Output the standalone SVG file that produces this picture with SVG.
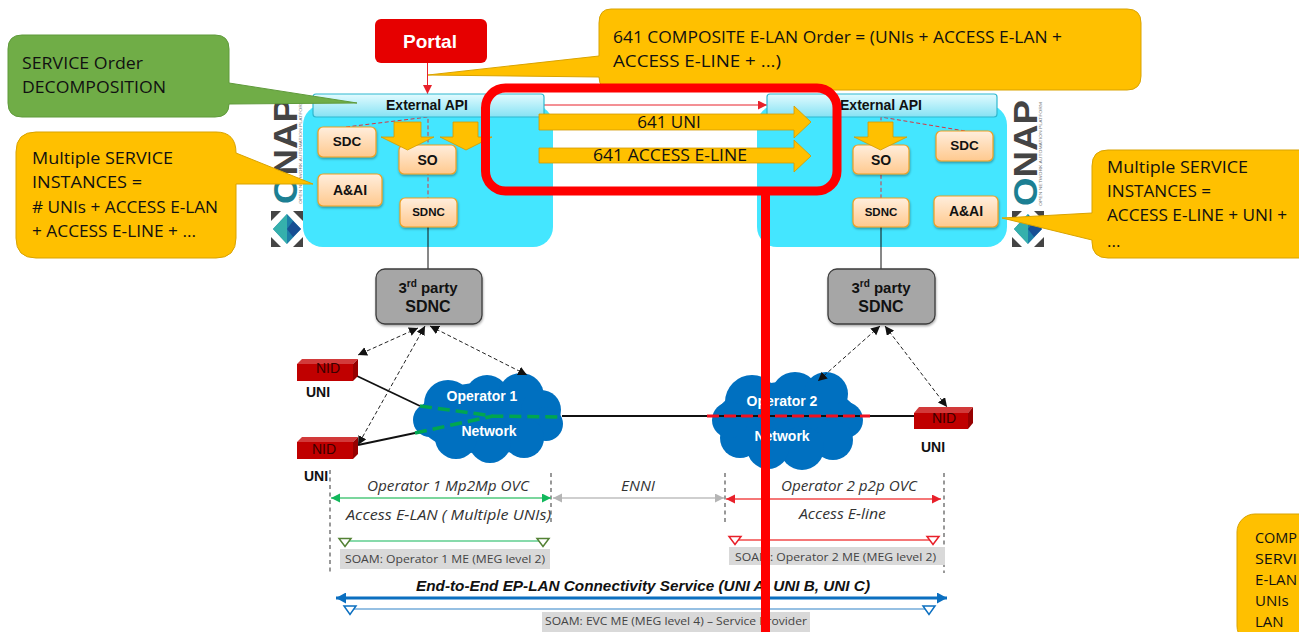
<svg xmlns="http://www.w3.org/2000/svg" xmlns:xlink="http://www.w3.org/1999/xlink" width="1299" height="632" viewBox="0 0 1299 632">
<style>
text{font-family:"Liberation Sans",Arial,sans-serif;fill:#111}
.call{font-family:"Open Sans","Liberation Sans",sans-serif;font-size:17px;dominant-baseline:central}
.small{font-size:15px}
.b{font-weight:bold;text-anchor:middle;dominant-baseline:central}
.yel{fill:#ffc000;stroke:#d9a300;stroke-width:1}
.grn{fill:#70ad47;stroke:#5f9a3b;stroke-width:1}
.panel{fill:#44e6ff}
.api{fill:url(#gApi);stroke:#2fb8cf;stroke-width:1.2}
.box{fill:url(#gBox);stroke:#ee9f22;stroke-width:1.2;filter:url(#sh)}
.sdnc3{fill:#a6a6a6;stroke:#3c3c3c;stroke-width:1.3;filter:url(#sh)}
.cloud{fill:#0070c0}
.cl{fill:#fff;font-weight:bold;font-size:14px;text-anchor:middle;dominant-baseline:central}
.nidf{fill:#c00000}.nidt{fill:#d23a3a}.nids{fill:#960000}
.nidl{font-size:14px;text-anchor:middle;dominant-baseline:central;fill:#3a0000}
.uni{font-weight:bold;font-size:14px;fill:#111;dominant-baseline:central}
.dash{fill:none;stroke:#222;stroke-width:1;stroke-dasharray:4 2.5;marker-start:url(#mK);marker-end:url(#mK)}
.blk{fill:none;stroke:#111;stroke-width:1.8}
.vd{fill:none;stroke:#555;stroke-width:1.2;stroke-dasharray:4 3.5}
.rd{fill:none;stroke:#d8343f;stroke-width:1;stroke-dasharray:4 2.5}
.arrow{fill:#ffc000;stroke:#d39a00;stroke-width:.8}
.it{font-family:"Open Sans","Noto Sans",sans-serif;font-style:italic;font-size:14px;fill:#333;dominant-baseline:central}
.so{font-family:"Open Sans","Noto Sans",sans-serif;font-size:11px;fill:#444;dominant-baseline:central}
.lab{fill:#d9d9d9}
.tri{fill:#fff;stroke-width:1.5}
.big{font-size:17px;text-anchor:middle;dominant-baseline:central;font-family:"Open Sans","Liberation Sans",sans-serif}
.onap{font-weight:bold;font-size:34px;fill:#444}
.sub{font-size:4px;fill:#777}
</style>
<defs>
<linearGradient id="gApi" x1="0" y1="0" x2="0" y2="1"><stop offset="0" stop-color="#e2fbff"/><stop offset="1" stop-color="#86e2f3"/></linearGradient>
<linearGradient id="gBox" x1="0" y1="0" x2="0" y2="1"><stop offset="0" stop-color="#ffeedd"/><stop offset="1" stop-color="#ffc98e"/></linearGradient>
<filter id="sh" x="-10%" y="-10%" width="125%" height="130%"><feDropShadow dx="0.5" dy="1.5" stdDeviation="1" flood-color="#000" flood-opacity=".35"/></filter>
<marker id="mK" markerUnits="userSpaceOnUse" markerWidth="10" markerHeight="10" refX="9" refY="4.5" orient="auto-start-reverse"><path d="M0 0L9 4.5L0 9Z" fill="#111"/></marker>
<marker id="mR" markerUnits="userSpaceOnUse" markerWidth="10" markerHeight="10" refX="9" refY="4.5" orient="auto-start-reverse"><path d="M0 0L9 4.5L0 9Z" fill="#e8202a"/></marker>
<marker id="mG" markerUnits="userSpaceOnUse" markerWidth="10" markerHeight="10" refX="9" refY="4.5" orient="auto-start-reverse"><path d="M0 0L9 4.5L0 9Z" fill="#12b85c"/></marker>
<marker id="mY" markerUnits="userSpaceOnUse" markerWidth="10" markerHeight="10" refX="9" refY="4.5" orient="auto-start-reverse"><path d="M0 0L9 4.5L0 9Z" fill="#b5b5b5"/></marker>
<marker id="mB" markerUnits="userSpaceOnUse" markerWidth="11" markerHeight="11" refX="10" refY="5.5" orient="auto-start-reverse"><path d="M0 0L10 5.5L0 11Z" fill="#0b6fc0"/></marker>
<g id="mark">
<rect x="0" y="0" width="32" height="36" fill="#444"/>
<path d="M10 0H22L32 10V26L22 36H10L0 26V10Z" fill="#fff"/>
<path d="M16 3L30 18L16 33L2 18Z" fill="#1d7fa8"/>
<path d="M16 3L2 18L16 33Z" fill="#35b0ac"/>
<path d="M22 10L30 18L22 26L16 18Z" fill="#174f94"/>
</g>
</defs>
<rect width="1299" height="632" fill="#fff"/>

<g id="onap-left">
<text class="onap" transform="translate(297,204) rotate(-90)" textLength="106" lengthAdjust="spacingAndGlyphs"><tspan fill="#1c7f93">O</tspan>NAP</text>
<text class="sub" transform="translate(302,204) rotate(-90)" textLength="104" lengthAdjust="spacingAndGlyphs">OPEN NETWORK AUTOMATION PLATFORM</text>
<use xlink:href="#mark" href="#mark" x="271" y="211"/>
</g>
<g id="onap-right">
<text class="onap" transform="translate(1037,206) rotate(-90)" textLength="106" lengthAdjust="spacingAndGlyphs"><tspan fill="#1c7f93">O</tspan>NAP</text>
<text class="sub" transform="translate(1042,206) rotate(-90)" textLength="104" lengthAdjust="spacingAndGlyphs">OPEN NETWORK AUTOMATION PLATFORM</text>
<use xlink:href="#mark" href="#mark" x="1012" y="211"/>
</g>

<rect id="panel-left" class="panel" x="303" y="105" width="250" height="142" rx="20"/>
<rect id="panel-right" class="panel" x="757" y="105" width="250" height="142" rx="20"/>

<g id="callout-order">
<path class="yel" d="M611 9H1127Q1141 9 1141 23V76Q1141 90 1127 90H613Q599 90 599 77L428 75L599 56V23Q599 9 611 9Z"/>
<text class="call" x="613" y="36" textLength="449" lengthAdjust="spacingAndGlyphs">641 COMPOSITE E-LAN Order = (UNIs + ACCESS E-LAN +</text>
<text class="call" x="613" y="60" textLength="168" lengthAdjust="spacingAndGlyphs">ACCESS E-LINE + ...)</text>
</g>

<g id="connectors">
<path d="M427.500 63V94" fill="none" stroke="#e8202a" stroke-width="1" marker-end="url(#mR)"/>
<path d="M544 105H767" fill="none" stroke="#e8202a" stroke-width="1" marker-end="url(#mR)"/>
<path class="rd" d="M346 127L428 117V198"/>
<path class="rd" d="M965 131L881 117V198"/>
<path d="M428 227V269M881 227V269" stroke="#111" stroke-width="1" fill="none"/>
<path class="blk" d="M357 376L420 406"/>
<path class="blk" d="M358 445L415 433"/>
</g>

<g id="portal">
<rect x="375" y="19" width="112" height="44" rx="6" fill="#e60000"/>
<text class="b" x="430" y="41" font-size="19" style="fill:#fff">Portal</text>
</g>

<g id="api-left"><rect class="api" x="313" y="94" width="231" height="23" rx="3"/><text class="b" x="427" y="105" font-size="14">External API</text></g>
<g id="api-right"><rect class="api" x="767" y="94" width="230" height="23" rx="3"/><text class="b" x="881" y="105" font-size="14">External API</text></g>

<g id="sdc-left"><rect class="box" x="318" y="127" width="58" height="30" rx="5"/><text class="b" x="347" y="141.500" font-size="13.500">SDC</text></g>
<g id="so-left"><rect class="box" x="399" y="145" width="57" height="29" rx="5"/><text class="b" x="427.500" y="159.500" font-size="14">SO</text></g>
<g id="aai-left"><rect class="box" x="318" y="174" width="64" height="32" rx="5"/><text class="b" x="350" y="189.500" font-size="14">A&amp;AI</text></g>
<g id="sdnc-left"><rect class="box" x="400" y="198" width="57" height="29" rx="5"/><text class="b" x="428.500" y="212" font-size="11.500">SDNC</text></g>

<g id="sdc-right"><rect class="box" x="936" y="131" width="57" height="30" rx="5"/><text class="b" x="964.500" y="145.500" font-size="13.500">SDC</text></g>
<g id="so-right"><rect class="box" x="853" y="145" width="56" height="29" rx="5"/><text class="b" x="881" y="159.500" font-size="14">SO</text></g>
<g id="aai-right"><rect class="box" x="934" y="196" width="64" height="31" rx="5"/><text class="b" x="966" y="211" font-size="14">A&amp;AI</text></g>
<g id="sdnc-right"><rect class="box" x="853" y="198" width="56" height="29" rx="5"/><text class="b" x="881" y="212" font-size="11.500">SDNC</text></g>

<g id="callout-decomposition">
<path class="grn" d="M22 35H215Q229 35 229 49V83L357 103L229 104Q229 117 215 117H22Q8 117 8 103V49Q8 35 22 35Z"/>
<text class="call" x="22" y="62" textLength="121" lengthAdjust="spacingAndGlyphs">SERVICE Order</text>
<text class="call" x="22" y="86" textLength="144" lengthAdjust="spacingAndGlyphs">DECOMPOSITION</text>
</g>
<g id="callout-left">
<path class="yel" d="M36 132H216Q236 132 236 153L313 184H236V238Q236 258 216 258H36Q16 258 16 238V152Q16 132 36 132Z"/>
<text class="call" x="32" y="157" textLength="141" lengthAdjust="spacingAndGlyphs">Multiple SERVICE</text>
<text class="call" x="32" y="181" textLength="110" lengthAdjust="spacingAndGlyphs">INSTANCES  =</text>
<text class="call" x="32" y="206" textLength="186" lengthAdjust="spacingAndGlyphs"># UNIs + ACCESS E-LAN</text>
<text class="call" x="32" y="230" textLength="164" lengthAdjust="spacingAndGlyphs">+ ACCESS E-LINE + ...</text>
</g>
<g id="callout-right">
<path class="yel" d="M1108 150H1301V258H1108Q1092 258 1092 242V240L1002 218L1092 213V166Q1092 150 1108 150Z"/>
<text class="call" x="1107" y="166" textLength="141" lengthAdjust="spacingAndGlyphs">Multiple SERVICE</text>
<text class="call" x="1107" y="190" textLength="104" lengthAdjust="spacingAndGlyphs">INSTANCES =</text>
<text class="call" x="1107" y="214" textLength="180" lengthAdjust="spacingAndGlyphs">ACCESS E-LINE + UNI +</text>
<text class="call" x="1107" y="240">...</text>
</g>
<g id="callout-composite">
<rect class="yel" x="1237" y="514" width="80" height="130" rx="18"/>
<text class="call small" x="1255" y="537" textLength="42" lengthAdjust="spacingAndGlyphs">COMP</text>
<text class="call small" x="1255" y="558" textLength="42" lengthAdjust="spacingAndGlyphs">SERVI</text>
<text class="call small" x="1255" y="579" textLength="42" lengthAdjust="spacingAndGlyphs">E-LAN</text>
<text class="call small" x="1255" y="600">UNIs</text>
<text class="call small" x="1255" y="621">LAN</text>
</g>

<g id="order-arrows">
<path class="arrow" d="M394 122H421V137H434L407.500 150L381 137H394Z"/>
<path class="arrow" d="M453 122H478V137H492L466 150L440 137H453Z"/>
<path class="arrow" d="M868 122H893V137H907L880.500 150L854 137H868Z"/>
<path class="arrow" d="M539 114H794V106L811 122L794 138V130H539Z"/>
<path class="arrow" d="M539 148H794V140L811 156L794 172V163H539Z"/>
<text class="big" x="669" y="121">641 UNI</text>
<text class="big" x="670" y="154" textLength="154" lengthAdjust="spacingAndGlyphs">641 ACCESS E-LINE</text>
</g>

<g id="sdnc3-left"><rect class="sdnc3" x="376" y="269" width="106" height="55" rx="9"/><text class="b" x="428" y="287" font-size="15">3<tspan font-size="10" dy="-4">rd</tspan><tspan dy="4"> party</tspan></text><text class="b" x="428" y="306" font-size="16">SDNC</text></g>
<g id="sdnc3-right"><rect class="sdnc3" x="828" y="269" width="107" height="55" rx="9"/><text class="b" x="881" y="287" font-size="15">3<tspan font-size="10" dy="-4">rd</tspan><tspan dy="4"> party</tspan></text><text class="b" x="881" y="306" font-size="16">SDNC</text></g>

<g id="cloud-1">
<g class="cloud"><ellipse cx="488" cy="418" rx="70" ry="36"/><circle cx="448" cy="404" r="24"/><circle cx="487" cy="397" r="22"/><circle cx="521" cy="396" r="23"/><circle cx="541" cy="410" r="20"/><circle cx="546" cy="424" r="17"/><circle cx="524" cy="438" r="20"/><circle cx="490" cy="442" r="21"/><circle cx="456" cy="438" r="21"/><circle cx="430" cy="420" r="17"/></g>
<text class="cl" x="482" y="396">Operator 1</text><text class="cl" x="489" y="431">Network</text>
</g>
<g id="cloud-2">
<g class="cloud"><ellipse cx="787" cy="420" rx="72" ry="38"/><circle cx="752" cy="402" r="27"/><circle cx="795" cy="396" r="24"/><circle cx="826" cy="394" r="22"/><circle cx="845" cy="420" r="18"/><circle cx="833" cy="440" r="20"/><circle cx="802" cy="448" r="22"/><circle cx="768" cy="448" r="21"/><circle cx="740" cy="438" r="20"/><circle cx="730" cy="420" r="18"/></g>
<text class="cl" x="782" y="401">Operator 2</text><text class="cl" x="782" y="436">Network</text>
</g>

<g id="service-lines">
<path d="M562 416H914" stroke="#111" stroke-width="1.800" fill="none"/>
<path d="M420 406L493 416L563 417M415 433L493 416" fill="none" stroke="#00a650" stroke-width="3.500" stroke-dasharray="12 6"/>
<path d="M707 416H870" fill="none" stroke="#f01020" stroke-width="3" stroke-dasharray="12 5"/>
<path class="dash" d="M418 328L358 355"/>
<path class="dash" d="M425 326L358 445"/>
<path class="dash" d="M430 326L527 375"/>
<path class="dash" d="M880 326L818 381"/>
<path class="dash" d="M885 326L947 407"/>
</g>

<g id="nid-1"><path class="nidf" d="M297 364H353V381H297Z"/><path class="nidt" d="M297 364L302 359H358L353 364Z"/><path class="nids" d="M353 364L358 359V376L353 381Z"/><text class="nidl" x="328" y="368">NID</text></g>
<g id="nid-2"><path class="nidf" d="M297 442H353V459H297Z"/><path class="nidt" d="M297 442L302 437H358L353 442Z"/><path class="nids" d="M353 442L358 437V454L353 459Z"/><text class="nidl" x="324" y="449">NID</text></g>
<g id="nid-3"><path class="nidf" d="M914 413H968V429H914Z"/><path class="nidt" d="M914 413L919 407H973L968 413Z"/><path class="nids" d="M968 413L973 407V423L968 429Z"/><text class="nidl" x="944" y="418">NID</text></g>
<text class="uni" x="306" y="392">UNI</text>
<text class="uni" x="304" y="476">UNI</text>
<text class="uni" x="921" y="447">UNI</text>

<g id="segments">
<path class="vd" d="M330 470V573M551 473V523M725 473V523M944 473V573"/>
<path d="M331 498H551" stroke="#4fc97c" stroke-width="1.600" fill="none" marker-start="url(#mG)" marker-end="url(#mG)"/>
<path d="M553 498H724" stroke="#bfbfbf" stroke-width="1.600" fill="none" marker-start="url(#mY)" marker-end="url(#mY)"/>
<path d="M726 499H941" stroke="#f24a4a" stroke-width="1.400" fill="none" marker-start="url(#mR)" marker-end="url(#mR)"/>
<text class="it" x="367" y="485" textLength="162" lengthAdjust="spacingAndGlyphs">Operator 1  Mp2Mp  OVC</text>
<text class="it" x="346" y="514" textLength="205" lengthAdjust="spacingAndGlyphs">Access E-LAN ( Multiple  UNIs)</text>
<text class="it" x="621" y="485" textLength="34" lengthAdjust="spacingAndGlyphs">ENNI</text>
<text class="it" x="781" y="485" textLength="136" lengthAdjust="spacingAndGlyphs">Operator 2  p2p OVC</text>
<text class="it" x="799" y="513" textLength="87" lengthAdjust="spacingAndGlyphs">Access E-line</text>

<path d="M345 541H543" stroke="#5fce8f" stroke-width="1.600" fill="none"/>
<path class="tri" stroke="#548235" d="M339 538.500H351L345 546.500Z"/><path class="tri" stroke="#548235" d="M537 538.500H549L543 546.500Z"/>
<rect class="lab" x="340" y="549" width="210" height="20"/>
<text class="so" x="345" y="558" textLength="200" lengthAdjust="spacingAndGlyphs">SOAM: Operator 1 ME (MEG level 2)</text>

<path d="M735 540H933" stroke="#f24a4a" stroke-width="1.400" fill="none"/>
<path class="tri" stroke="#e8202a" d="M729 536.500H741L735 544.500Z"/><path class="tri" stroke="#e8202a" d="M927 536.500H939L933 544.500Z"/>
<rect class="lab" x="729" y="547" width="216" height="18"/>
<text class="so" x="735" y="556" textLength="201" lengthAdjust="spacingAndGlyphs">SOAM: Operator 2 ME (MEG level 2)</text>

<text x="416" y="586" font-size="14" font-weight="bold" font-style="italic" dominant-baseline="central" textLength="454" lengthAdjust="spacingAndGlyphs">End-to-End EP-LAN Connectivity Service (UNI A, UNI B, UNI C)</text>
<path d="M336 598H947" stroke="#0b6fc0" stroke-width="3" fill="none" marker-start="url(#mB)" marker-end="url(#mB)"/>
<path d="M350 609H929" stroke="#2f82c8" stroke-width="1.200" fill="none"/>
<path class="tri" stroke="#0b6fc0" d="M344 606H356L350 614.500Z"/><path class="tri" stroke="#0b6fc0" d="M923 606H935L929 614.500Z"/>
<rect class="lab" x="542" y="612" width="268" height="20"/>
<text class="so" x="545" y="620" textLength="262" lengthAdjust="spacingAndGlyphs">SOAM:  EVC ME (MEG level 4) – Service Provider</text>
</g>

<g id="highlight" fill="none" stroke="#ff0000">
<rect x="485.500" y="88" width="351.500" height="103" rx="20" stroke-width="9"/>
<path d="M765.500 191V632" stroke-width="9"/>
</g>
</svg>
